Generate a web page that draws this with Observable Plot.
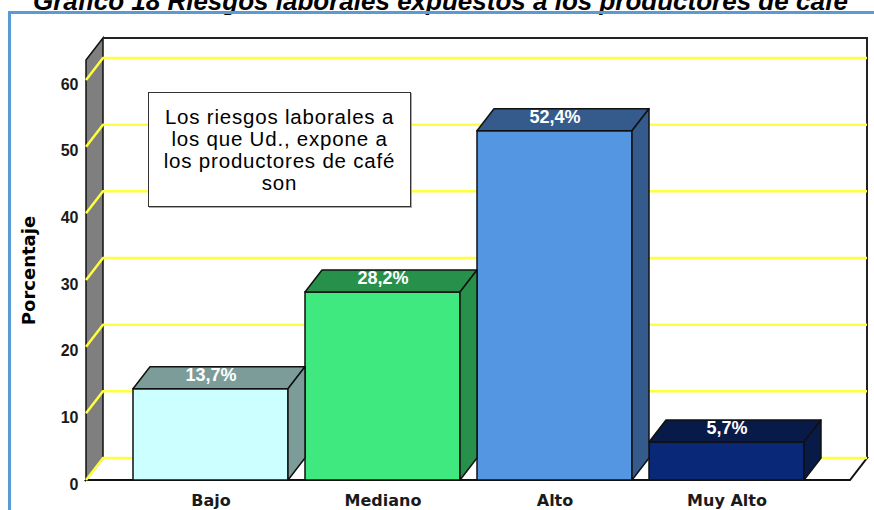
<!DOCTYPE html>
<html><head><meta charset="utf-8">
<script src="https://cdn.jsdelivr.net/npm/d3@7"></script>
<script src="https://cdn.jsdelivr.net/npm/@observablehq/plot@0.6"></script>
<style>
html,body{margin:0;padding:0;background:#fff;}
#wrap{position:relative;width:874px;height:510px;overflow:hidden;font-family:"Liberation Sans",Arial,sans-serif;}
#chart{position:absolute;left:0;top:0;}
#title{position:absolute;left:33px;top:-12px;font-size:26px;line-height:26px;font-weight:bold;font-style:italic;white-space:nowrap;color:#000;}
#frame{position:absolute;left:8px;top:11px;width:900px;height:600px;border-left:3px solid #5B9BD5;border-top:3px solid #5B9BD5;pointer-events:none;}
#note{position:absolute;left:148px;top:92px;width:261px;height:113px;border:1.5px solid #333;box-shadow:1px 1px 0 #aaa;background:#fff;display:flex;flex-direction:column;align-items:center;justify-content:center;text-align:center;font-size:20.5px;letter-spacing:0.8px;color:#000;}
#note div{height:22px;line-height:22px;white-space:nowrap;}
</style></head>
<body>
<div id="wrap">
  <div id="chart"></div>
  <div id="title"></div>
  <div id="frame"></div>
  <div id="note"></div>
</div>
<script>
const title = "Gráfico 18 Riesgos laborales expuestos a los productores de café";
const noteLines = ["Los riesgos laborales a", "los que Ud., expone a", "los productores de café", "son"];
const axisTitle = "Porcentaje";
const cats = ["Bajo", "Mediano", "Alto", "Muy Alto"];
const values = [13.7, 28.2, 52.4, 5.7];
const valueLabels = ["13,7%", "28,2%", "52,4%", "5,7%"];
const frontColors = ["#CCFFFF", "#40E880", "#5596E3", "#0A2878"];
const shadeColors = ["#7C9C99", "#27904A", "#355B8C", "#071A48"];
const yTicks = [0, 10, 20, 30, 40, 50, 60];
const yMax = 63;

const DX = 17, DY = -22;
const data = cats.map((c, i) => ({cat: c, value: values[i], label: valueLabels[i], front: frontColors[i], shade: shadeColors[i]}));

document.getElementById("title").textContent = title;
const note = document.getElementById("note");
for (const line of noteLines) {
  const div = document.createElement("div");
  div.textContent = line;
  note.appendChild(div);
}

function walls(index, scales, values, dims) {
  const y = scales.y;
  const x0 = dims.marginLeft, x1 = dims.width - dims.marginRight;
  const yb = y(0), yt = y(yMax);
  const g = d3.create("svg:g");
  g.append("rect").attr("x", x0 + DX).attr("y", yt + DY).attr("width", x1 - x0).attr("height", yb - yt).attr("fill", "#fff");
  g.append("path").attr("d", `M${x0},${yt}L${x0+DX},${yt+DY}L${x0+DX},${yb+DY}L${x0},${yb}Z`)
    .attr("fill", "#7f7f7f").attr("stroke", "#111").attr("stroke-width", 1.5);
  g.append("path").attr("d", `M${x0},${yb}L${x0+DX},${yb+DY}L${x1+DX},${yb+DY}L${x1},${yb}Z`)
    .attr("fill", "#fff").attr("stroke", "#111").attr("stroke-width", 2);
  g.append("path").attr("d", `M${x0+DX},${yt+DY}L${x1+DX},${yt+DY}L${x1+DX},${yb+DY}`)
    .attr("fill", "none").attr("stroke", "#222").attr("stroke-width", 2);
  for (const t of yTicks) {
    const yy = y(t);
    g.append("path").attr("d", `M${x0},${yy}L${x0+DX},${yy+DY}L${x1+DX},${yy+DY}`)
      .attr("fill", "none").attr("stroke", "#FFFF40").attr("stroke-width", 2.5);
  }
  return g.node();
}

function barFaces(index, scales, values, dims) {
  const g = d3.create("svg:g");
  const bw = scales.x.bandwidth();
  for (const d of data) {
    const xa = scales.x(d.cat), xb = xa + bw, yt = scales.y(d.value), yb = scales.y(0);
    g.append("path").attr("d", `M${xa},${yt}L${xa+DX},${yt+DY}L${xb+DX},${yt+DY}L${xb},${yt}Z`)
      .attr("fill", d.shade).attr("stroke", "#111").attr("stroke-width", 1.5).attr("stroke-linejoin", "round");
    g.append("path").attr("d", `M${xb},${yt}L${xb+DX},${yt+DY}L${xb+DX},${yb+DY}L${xb},${yb}Z`)
      .attr("fill", d.shade).attr("stroke", "#111").attr("stroke-width", 1.5).attr("stroke-linejoin", "round");
  }
  return g.node();
}

const plot = Plot.plot({
  width: 874,
  height: 510,
  marginLeft: 86,
  marginRight: 24,
  marginTop: 60,
  marginBottom: 30,
  style: {background: "transparent", fontFamily: "'Liberation Sans', Arial, sans-serif", overflow: "visible"},
  x: {domain: cats, paddingInner: 0.1, paddingOuter: 0.27, axis: null},
  y: {domain: [0, yMax], axis: null},
  color: {type: "identity"},
  marks: [
    walls,
    Plot.barY(data, {x: "cat", y: "value", fill: "front", stroke: "#111", strokeWidth: 1.5, insetLeft: 0, insetRight: 0}),
    barFaces,
    Plot.text(data, {x: "cat", y: "value", text: "label", fill: "white", fontSize: 18, fontWeight: "bold", dy: -14}),
    Plot.axisY(yTicks, {tickSize: 0, tickPadding: 8, dy: 4, fontSize: 16, fontWeight: "bold", fill: "#1a1a1a", label: null}),
    Plot.axisX({tickSize: 0, tickPadding: 14, fontSize: 16, fontWeight: "bold", fontFamily: "'DejaVu Sans', sans-serif", fill: "#1a1a1a", label: null}),
    Plot.text([axisTitle], {text: d => d, frameAnchor: "left", textAnchor: "middle", dx: -57, rotate: -90, fontSize: 18, fontWeight: "bold", fontFamily: "'DejaVu Sans', sans-serif", fill: "#000"})
  ]
});
document.getElementById("chart").appendChild(plot);
</script>
</body></html>
